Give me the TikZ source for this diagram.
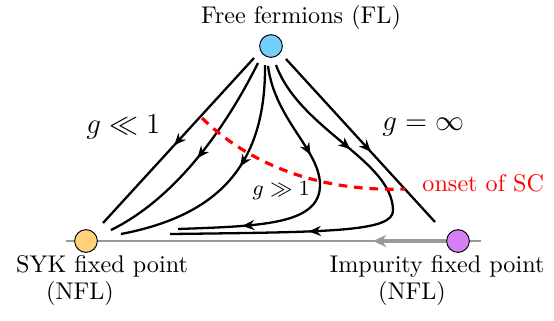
\documentclass[tikz,border=0pt]{standalone}
\usetikzlibrary{arrows.meta,decorations.markings,backgrounds}
\definecolor{flblue}{HTML}{70D0FA}
\definecolor{sykorange}{HTML}{FFD27A}
\definecolor{impviolet}{HTML}{D780F5}
\begin{document}
\begin{tikzpicture}[x=0.414pt, y=-0.414pt, >=Stealth,
  fixpt/.style={circle, draw, thin, minimum size=9.4pt, inner sep=0pt},
  flow/.style={line width=0.95pt, postaction={decorate}, decoration={markings, mark=at position #1 with {\arrow{Stealth[length=5pt,width=4.2pt]}}}},
  flowtwo/.style 2 args={line width=0.95pt, postaction={decorate}, decoration={markings, mark=at position #1 with {\arrow{Stealth[length=5pt,width=4.2pt]}}, mark=at position #2 with {\arrow{Stealth[length=5pt,width=4.2pt]}}}},
  lab/.style={anchor=base, inner sep=0pt}]
  \useasboundingbox (0,0) rectangle (554,320);
  % fixed points
  \node[fixpt, fill=flblue] (fl) at (271,46) {};
  \node[fixpt, fill=sykorange] (syk) at (86,241) {};
  \node[fixpt, fill=impviolet] (imp) at (458,241) {};
  \node[lab] (fllab) at (301,23) {Free fermions (FL)};
  \node[lab] (syklab) at (102,272) {SYK fixed point};
  \node[lab] (syknfl) at (80,299) {(NFL)};
  \node[lab] (implab) at (437,272) {Impurity fixed point};
  \node[lab] (impnfl) at (412,299) {(NFL)};
  % axis between the two NFL points
  \coordinate (axl) at (66,241);
  \coordinate (axr) at (481,241);
  \coordinate (axtip) at (373,241);
  \begin{scope}[on background layer]
    \draw[black!40, line width=1.1pt] (axl) -- (axr);
    \draw[black!40, line width=2pt, -{Stealth[length=5.5pt,width=5pt]}] (imp) -- (axtip);
  \end{scope}
  % flow lines out of FL
  \coordinate (s1) at (254,58);  \coordinate (e1) at (103,223);
  \coordinate (s2) at (258,63);  \coordinate (e2) at (111,230);
  \coordinate (s3) at (265,65);  \coordinate (e3) at (121,234);
  \coordinate (s4) at (268,66);  \coordinate (b4) at (320,185); \coordinate (e4) at (178,229);
  \coordinate (s5) at (276,65);  \coordinate (b5) at (393,210); \coordinate (e5) at (170,234);
  \coordinate (s6) at (286,59);  \coordinate (e6) at (435,222);
  \draw[flow=0.53] (s1) -- (e1);
  \draw[flow=0.5] (s2) .. controls (222,135) and (172,200) .. (e2);
  \draw[flow=0.43] (s3) .. controls (266,168) and (215,216) .. (e3);
  \draw[flowtwo={0.34}{0.78}] (s4) .. controls (275,120) and (320,150) .. (b4) .. controls (320,225) and (260,226) .. (e4);
  \draw[flowtwo={0.27}{0.67}] (s5) .. controls (300,130) and (392,160) .. (b5) .. controls (394,232) and (330,232) .. (e5);
  \draw[flow=0.57] (s6) -- (e6);
  % onset of superconductivity
  \coordinate (sc1) at (202,118);
  \coordinate (sc2) at (405,189);
  \draw[red, line width=1.3pt, dash pattern=on 3.6pt off 2.8pt] (sc1) .. controls (250,165) and (320,192) .. (sc2);
  \node[lab, anchor=base west, text=red] (sclab) at (422,191) {onset of SC};
  % coupling labels
  \node[lab, anchor=base west, font=\large] (gsmall) at (86,133) {$g \ll 1$};
  \node[lab, anchor=base west, font=\large] (ginf) at (382,130) {$g = \infty$};
  \node[lab, anchor=base west, font=\small] (glarge) at (252,195) {$g \gg 1$};
\end{tikzpicture}
\end{document}
